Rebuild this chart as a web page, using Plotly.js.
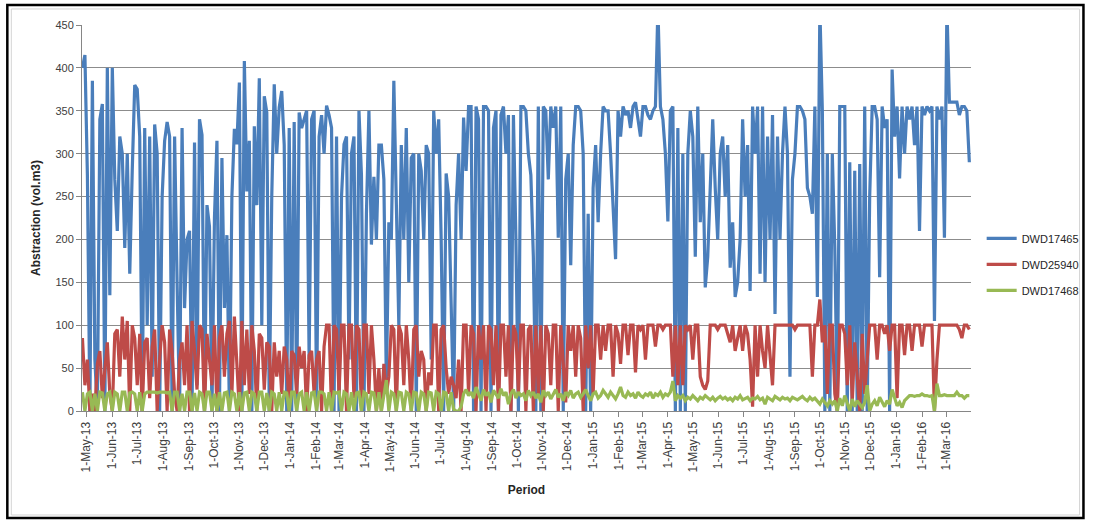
<!DOCTYPE html>
<html>
<head>
<meta charset="utf-8">
<script src="https://cdn.plot.ly/plotly-3.0.1.min.js"></script>
<style>html,body{margin:0;padding:0;background:#fff}#chart{width:1096px;height:521px}</style>
</head>
<body>
<div id="chart"></div>
<script>
// Sampled every 3 days starting at the first date
const startDate = "2013-04-26";
const stepDays = 3;
const seriesNames = ["DWD17465", "DWD25940", "DWD17468"];

const dwd17465 = [
  400,415,275,0,385,60,0,340,358,0,
  400,135,400,270,210,320,300,190,300,160,
  280,380,375,320,0,330,100,320,40,334,
  300,0,250,315,337,320,0,320,150,0,
  330,120,200,210,0,313,30,340,322,0,
  240,215,0,225,315,0,295,120,205,
  0,250,329,311,383,0,408,256,315,0,
  332,240,388,100,367,348,0,250,381,300,
  354,373,310,0,330,0,337,0,348,330,
  340,350,60,340,350,0,320,345,300,356,
  345,330,0,320,0,250,311,320,60,300,
  320,0,350,275,0,230,350,194,273,200,
  310,310,270,30,220,200,385,250,100,310,
  200,330,150,295,300,0,300,280,200,310,
  300,60,350,300,340,200,0,277,250,125,
  0,240,300,200,342,280,355,355,0,355,
  340,0,355,355,350,0,330,350,0,345,
  355,300,345,0,345,200,0,355,355,350,300,
  275,180,0,355,0,355,350,270,355,330,
  355,202,355,0,270,300,170,310,355,355,
  350,300,0,230,0,260,310,220,300,355,
  350,350,300,240,177,350,320,355,345,350,
  330,355,360,340,320,355,355,345,340,350,
  355,470,355,340,300,221,350,355,0,330,
  0,300,0,300,350,320,180,355,220,300,
  144,180,260,340,260,200,300,320,250,310,
  167,220,133,150,200,340,250,310,140,355,
  300,355,160,355,150,320,200,345,113,320,
  200,300,355,300,40,270,300,355,355,350,
  340,260,250,230,355,133,470,350,0,300,
  0,300,190,0,355,355,355,0,290,0,
  280,0,288,0,355,0,250,355,355,340,
  156,355,330,340,0,398,320,355,271,355,
  300,355,340,355,310,355,210,355,345,355,
  350,355,105,355,340,355,202,470,360,360,
  360,360,345,355,355,350,290
];

const dwd25940 = [
  85,30,60,0,20,0,55,70,15,45,
  80,20,0,90,95,40,110,60,105,0,
  100,85,30,90,0,80,85,15,75,95,
  0,60,100,80,0,95,70,20,0,60,
  80,30,100,0,105,70,25,100,95,0,
  90,60,30,100,0,85,100,40,90,
  105,20,110,60,0,105,30,95,
  20,100,70,0,90,85,25,80,
  75,0,80,40,70,20,75,60,
  0,70,65,20,75,50,70,0,
  65,70,20,60,70,0,75,100,
  100,0,100,95,20,100,100,0,
  100,100,15,100,95,0,100,100,
  20,100,60,0,
  50,0,55,20,40,100,95,0,
  100,90,30,100,60,0,95,100,
  40,70,60,0,45,30,100,100,
  0,95,100,50,20,40,30,15,
  60,0,100,100,20,100,90,0,
  100,60,100,0,100,95,30,100,
  0,100,100,40,100,0,100,90,
  20,100,100,0,95,
  100,0,100,20,100,0,100,90,
  30,100,100,0,100,60,10,100,
  70,100,40,100,85,0,100,50,
  100,20,100,100,60,100,70,100,
  100,40,100,90,55,100,100,65,
  100,100,45,100,95,100,60,100,
  100,100,75,100,100,95,100,100,
  100,40,100,30,
  100,30,100,95,100,60,100,100,
  40,30,25,35,100,100,100,95,
  100,100,100,90,80,100,70,85,
  100,70,100,90,60,5,100,40,
  100,70,50,100,60,30,100,100,
  100,100,100,100,100,100,95,100,
  100,100,100,100,100,40,100,100,
  130,80,100,20,100,
  100,20,0,100,100,90,30,100,
  10,80,40,0,90,20,60,100,
  100,100,60,100,100,90,100,70,
  100,100,15,100,100,65,100,100,
  70,100,100,100,75,100,100,100,
  100,0,60,100,100,100,100,100,
  100,100,100,95,85,100,100,95
];

const dwd17468 = [
  22,0,20,22,0,20,0,22,21,0,
  20,22,0,22,20,0,22,22,0,21,
  22,20,0,22,0,20,22,22,22,22,
  21,22,22,22,21,22,0,22,22,0,
  20,0,22,22,0,21,0,22,20,0,
  22,22,0,20,0,22,0,21,22,
  0,22,20,0,22,0,21,22,0,22,
  20,0,22,22,0,21,0,22,20,0,
  22,0,22,21,0,22,22,0,20,22,
  0,22,0,21,22,0,22,22,20,0,
  22,0,22,21,22,0,22,20,0,22,
  0,21,22,0,22,20,0,22,21,0,
  22,0,21,36,0,22,20,0,22,21,
  0,22,20,0,22,21,0,22,20,0,
  22,21,0,22,20,0,22,21,0,22,
  2,0,0,5,20,25,18,22,15,28,
  20,12,25,18,22,10,24,20,15,26,
  18,22,8,20,25,15,22,18,20,12,24,
  18,22,15,20,10,24,18,22,14,20,
  25,16,20,12,22,18,24,15,20,22,
  16,20,25,18,12,20,22,15,18,24,
  20,16,22,18,14,20,28,18,16,22,
  18,20,15,22,18,16,20,18,22,15,
  20,18,22,16,20,18,22,35,12,18,
  15,18,12,16,14,18,15,12,16,14,
  18,15,13,16,12,15,17,14,16,13,
  15,12,16,14,18,13,15,16,12,15,
  14,17,13,15,8,16,14,12,17,15,
  13,16,14,15,12,16,14,13,15,17,
  14,12,16,13,15,12,8,14,10,6,12,
  8,12,0,15,6,18,10,0,14,5,
  12,8,4,10,30,0,8,12,6,16,
  10,5,12,8,25,14,6,10,4,12,
  15,18,18,17,18,18,20,18,18,17,
  18,0,32,18,18,19,18,18,18,18,
  22,18,18,15,18,18
];

const colors = ["#4A7EBB", "#BE4B48", "#98B954"];

function datesFor(n) {
  const t0 = Date.parse(startDate + "T00:00:00Z");
  const out = [];
  for (let i = 0; i < n; i++) {
    out.push(new Date(t0 + i * stepDays * 86400000).toISOString().slice(0, 10));
  }
  return out;
}

const seriesValues = [dwd17465, dwd25940, dwd17468];
const traces = seriesValues.map((vals, k) => ({
  type: "scatter",
  mode: "lines",
  name: seriesNames[k],
  legendgroup: "g" + k,
  x: datesFor(vals.length),
  y: vals,
  line: { color: colors[k], width: 3.2 },
  hoverinfo: "x+y+name"
}));

const fontFam = "Liberation Sans, Arial, sans-serif";
const layout = {
  width: 1096,
  height: 521,
  margin: { l: 82, r: 121, t: 25, b: 110 },
  paper_bgcolor: "#ffffff",
  plot_bgcolor: "#ffffff",
  font: { family: fontFam, size: 11, color: "#404040" },
  showlegend: true,
  legend: {
    x: 1.012, y: 0.38, xanchor: "left", yanchor: "middle",
    font: { family: fontFam, size: 11, color: "#262626" },
    itemwidth: 30, tracegroupgap: 7, traceorder: "grouped",
    bgcolor: "rgba(0,0,0,0)"
  },
  xaxis: {
    type: "date",
    range: ["2013-04-25 12:00", "2016-03-31"],
    tick0: "2013-05-01",
    dtick: "M1",
    tickformat: "%-d-%b-%y",
    tickangle: -90,
    ticks: "outside",
    ticklen: 5,
    tickcolor: "#868686",
    showline: true,
    linecolor: "#868686",
    linewidth: 1,
    showgrid: false,
    zeroline: false,
    tickfont: { family: fontFam, size: 12, color: "#404040" },
    title: { text: "<b>Period</b>", font: { family: fontFam, size: 12, color: "#262626" }, standoff: 14 }
  },
  yaxis: {
    range: [0, 450],
    dtick: 50,
    tick0: 0,
    ticks: "outside",
    ticklen: 5,
    tickcolor: "#868686",
    showline: true,
    linecolor: "#868686",
    linewidth: 1,
    showgrid: true,
    gridcolor: "#8c8c8c",
    gridwidth: 1,
    zeroline: false,
    tickfont: { family: fontFam, size: 11, color: "#404040" },
    title: { text: "<b>Abstraction (vol.m3)</b>", font: { family: fontFam, size: 12, color: "#262626" }, standoff: 12 }
  },
  shapes: [
    { type: "rect", xref: "paper", yref: "paper", x0: -0.0795, x1: 1.1221, y0: -0.2694, y1: 1.0415,
      line: { color: "#d4d4d4", width: 1 }, fillcolor: "rgba(0,0,0,0)", layer: "below" },
    { type: "rect", xref: "paper", yref: "paper", x0: -0.0840, x1: 1.1265, y0: -0.2772, y1: 1.0518,
      line: { color: "#000000", width: 2.5 }, fillcolor: "rgba(0,0,0,0)", layer: "above" }
  ]
};

Plotly.newPlot("chart", traces, layout, { displayModeBar: false, staticPlot: true });
</script>
</body>
</html>
